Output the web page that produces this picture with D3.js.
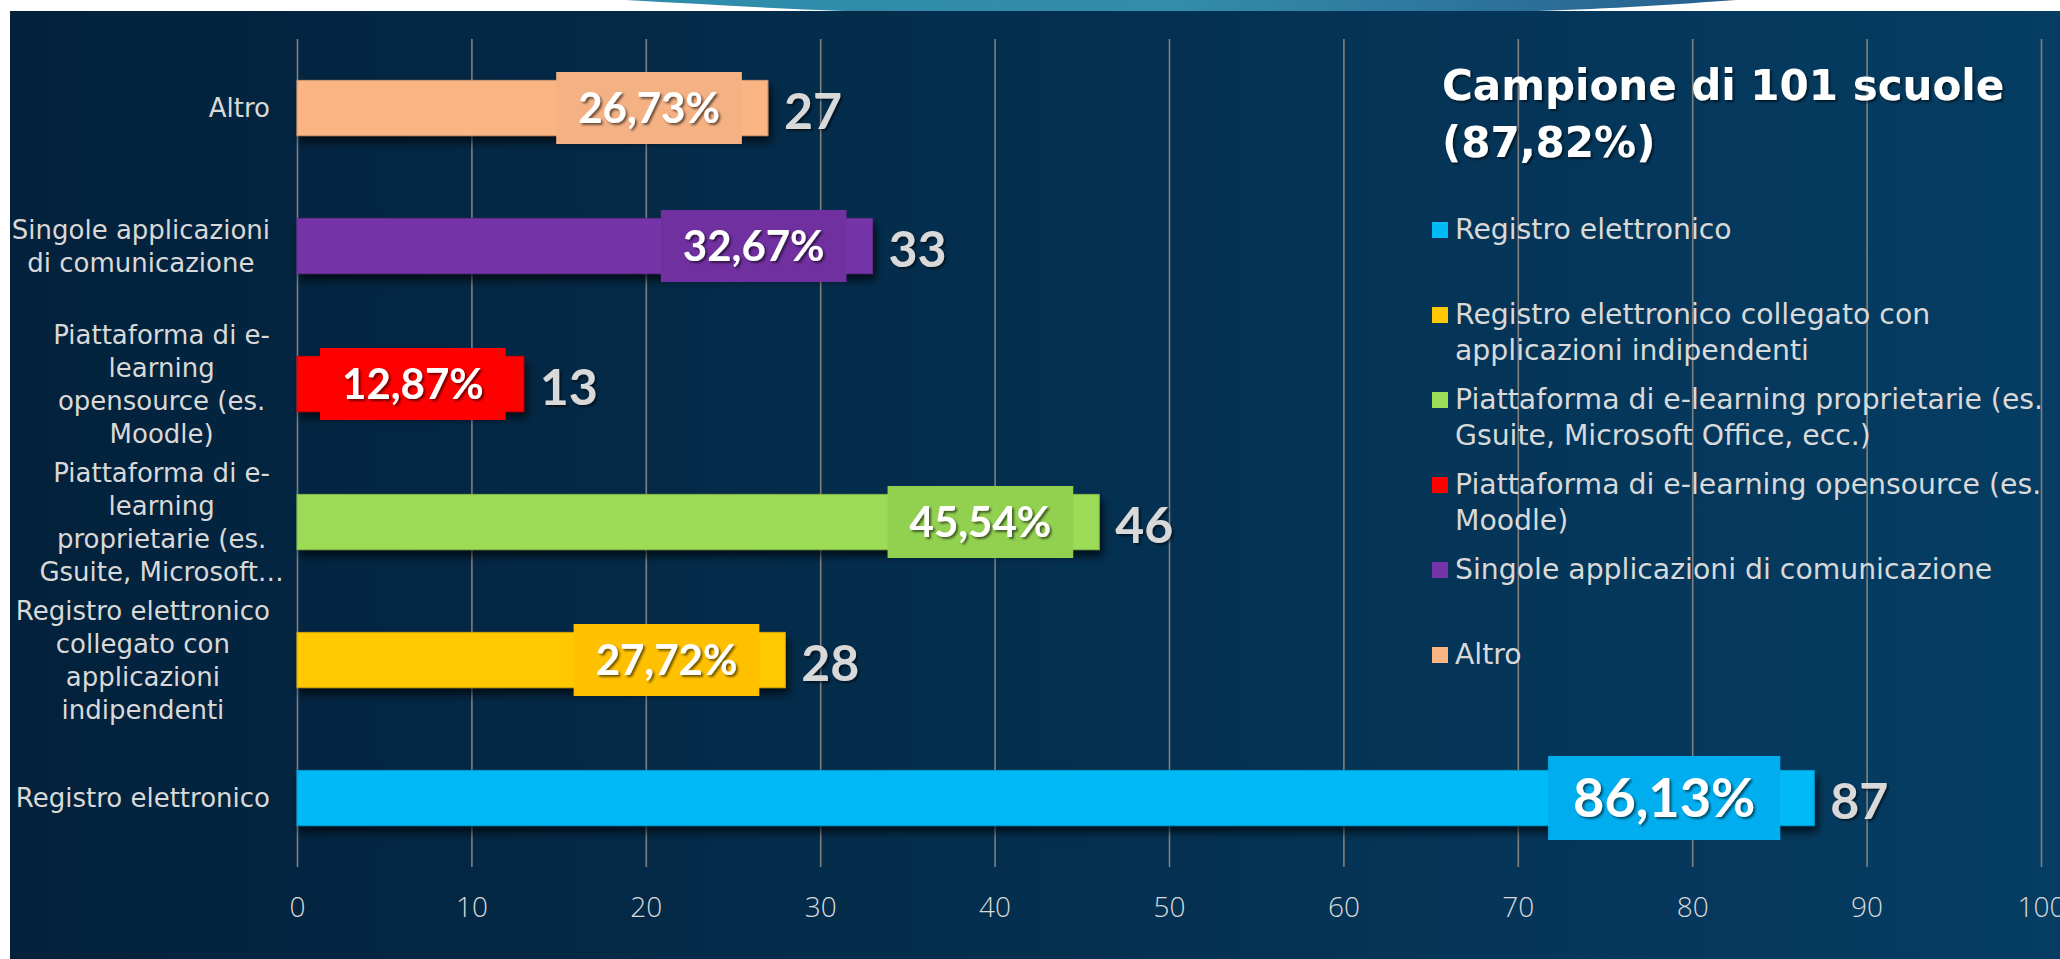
<!DOCTYPE html>
<html>
<head>
<meta charset="utf-8">
<script src="https://cdn.jsdelivr.net/npm/d3@7"></script>
<style>
  body { margin: 0; background: #fff; overflow: hidden; }
  text { font-family: Lato, "Open Sans", sans-serif; }
  .soft { font-family: "Open Sans", Lato, sans-serif; }
  .wide { font-family: "DejaVu Sans", "Open Sans", sans-serif; }
</style>
</head>
<body>
<script>
// data
const categories = [
  "Registro elettronico",
  "Registro elettronico collegato con applicazioni indipendenti",
  "Piattaforma di e-learning proprietarie (es. Gsuite, Microsoft Office, ecc.)",
  "Piattaforma di e-learning opensource (es. Moodle)",
  "Singole applicazioni di comunicazione",
  "Altro"
];
const counts = [87, 28, 46, 13, 33, 27];
const percents = [86.13, 27.72, 45.54, 12.87, 32.67, 26.73];

// axis labels as Excel wrapped them
const axisLines = [
  ["Registro elettronico"],
  ["Registro elettronico", "collegato con", "applicazioni", "indipendenti"],
  ["Piattaforma di e-", "learning", "proprietarie (es.", "Gsuite, Microsoft…"],
  ["Piattaforma di e-", "learning", "opensource (es.", "Moodle)"],
  ["Singole applicazioni", "di comunicazione"],
  ["Altro"]
];
const legendLines = [
  ["Registro elettronico"],
  ["Registro elettronico collegato con", "applicazioni indipendenti"],
  ["Piattaforma di e-learning proprietarie (es.", "Gsuite, Microsoft Office, ecc.)"],
  ["Piattaforma di e-learning opensource (es.", "Moodle)"],
  ["Singole applicazioni di comunicazione"],
  ["Altro"]
];
const titleLines = ["Campione di 101 scuole", "(87,82%)"];
const xTicks = [0, 10, 20, 30, 40, 50, 60, 70, 80, 90, 100];

var width = 2060, height = 959;
var plot = {left: 297, right: 2041, top: 39, bottom: 867};

const barColor = d3.scaleOrdinal()
    .domain(categories)
    .range(["#00b9f7", "#ffc800", "#9cdb55", "#ff0000", "#7535a8", "#fbb585"]);
const boxColor = d3.scaleOrdinal()
    .domain(categories)
    .range(["#00aeef", "#ffc000", "#92d050", "#ff0000", "#7030a0", "#f4b183"]);

const svg = d3.select('body')
    .append("svg")
        .attr("width", width)
        .attr("height", height)

const defs = svg.append("defs")
const bg = defs.append("linearGradient").attr("id", "bg")
bg.append("stop").attr("offset", "0%").attr("stop-color", "#03213b")
bg.append("stop").attr("offset", "100%").attr("stop-color", "#053d63")

const sw = defs.append("linearGradient").attr("id", "swoosh")
sw.append("stop").attr("offset", "0%").attr("stop-color", "#2f8cab")
sw.append("stop").attr("offset", "50%").attr("stop-color", "#338ca9")
sw.append("stop").attr("offset", "100%").attr("stop-color", "#275f8f")

const barShadow = defs.append("filter").attr("id", "barShadow")
    .attr("x", "-5%").attr("y", "-30%").attr("width", "115%").attr("height", "180%")
barShadow.append("feDropShadow")
    .attr("dx", 3).attr("dy", 6).attr("stdDeviation", 4)
    .attr("flood-color", "#000").attr("flood-opacity", 0.7)

const textShadow = defs.append("filter").attr("id", "textShadow")
textShadow.append("feDropShadow")
    .attr("dx", 2).attr("dy", 2).attr("stdDeviation", 1.2)
    .attr("flood-color", "#000").attr("flood-opacity", 0.55)

// background panel + the theme swoosh on top
svg.append("path")
    .attr("d", "M626,0 C700,4 780,9 844,11 L1537,11 C1610,9 1680,4 1736,0 Z")
    .attr("fill", "url(#swoosh)")
svg.append("rect")
    .attr("x", 10).attr("y", 11)
    .attr("width", width - 10).attr("height", height - 11)
    .attr("fill", "url(#bg)")

const x = d3.scaleLinear()
    .domain([0, 100])
    .range([plot.left, plot.right]);

const y = d3.scaleBand()
    .domain(categories.slice().reverse())
    .range([plot.top, plot.bottom])
    .paddingInner(0.6)
    .paddingOuter(0.3);

// gridlines and tick labels
const xAxis = svg.append("g")
    .attr("transform", "translate(0," + plot.bottom + ")")
    .call(d3.axisBottom(x).tickValues(xTicks).tickSize(-(plot.bottom - plot.top)).tickPadding(30))
xAxis.select(".domain").remove()
xAxis.selectAll("line").attr("stroke", "#808080").attr("stroke-width", 1.6)
xAxis.selectAll("text")
    .attr("class", "soft")
    .attr("fill", "#d9d9d9")
    .style("font-size", "28px")
    .style("font-weight", 300)

// category labels (wrapped, centred block, right aligned to axis)
const catG = svg.append("g")
categories.forEach((c, i) => {
    const lines = axisLines[i];
    const lh = 33;
    const cy = y(c) + y.bandwidth() / 2;
    const t = catG.append("text")
        .attr("class", "wide")
        .attr("text-anchor", "middle")
        .attr("fill", "#d9d9d9")
        .style("font-size", "26px")
    lines.forEach((l, j) => {
        t.append("tspan")
            .attr("y", cy + (j - (lines.length - 1) / 2) * lh)
            .attr("dy", "0.35em")
            .text(l)
    })
    // block width from the lines that were not cut with an ellipsis
    let maxW = 0;
    t.selectAll("tspan").each(function() {
        if (!this.textContent.endsWith("…")) maxW = Math.max(maxW, this.getComputedTextLength())
    })
    t.selectAll("tspan").attr("x", 270 - maxW / 2)
})

// bars
const groups = svg.selectAll(".bar")
    .data(categories)
    .enter().append("g")
        .attr("class", "bar")

groups.append('rect')
    .attr('x', x(0))
    .attr('y', d => y(d))
    .attr('width', (d, i) => x(counts[i]) - x(0))
    .attr('height', y.bandwidth())
    .attr('fill', d => barColor(d))
    .attr('stroke', d => d3.color(barColor(d)).darker(0.5))
    .attr('stroke-width', 1)
    .attr('filter', 'url(#barShadow)')

// value labels
groups.append('text')
    .attr('x', (d, i) => x(counts[i]) + 16)
    .attr('y', d => y(d) + y.bandwidth() / 2 + 3)
    .attr('dy', '0.35em')
    .attr('fill', '#d9d9d9')
    .style('font-size', '50px')
    .style('font-weight', 700)
    .attr('filter', 'url(#textShadow)')
    .text((d, i) => counts[i])

// percentage labels in boxes
const maxCount = d3.max(counts);
groups.each(function(d, i) {
    const g = d3.select(this);
    const big = counts[i] === maxCount;
    const fs = big ? 54 : 42;
    const boxH = big ? 84 : 72;
    const pad = big ? 25 : 22;
    const cy = y(d) + y.bandwidth() / 2;
    const box = g.append('rect').attr('fill', boxColor(d));
    const t = g.append('text')
        .attr('text-anchor', 'middle')
        .attr('dy', '0.35em')
        .attr('fill', '#fff')
        .style('font-size', fs + 'px')
        .style('font-weight', 700)
        .attr('filter', 'url(#textShadow)')
        .text(d3.format('.2f')(percents[i]).replace('.', ',') + '%');
    const boxW = t.node().getComputedTextLength() + 2 * pad;
    const right = x(counts[i]) - (big ? 34 : counts[i] < 20 ? 18 : 26);
    box.attr('x', right - boxW).attr('y', cy - boxH / 2)
        .attr('width', boxW).attr('height', boxH);
    t.attr('x', right - boxW / 2).attr('y', cy);
})

// legend
const leg = svg.append("g")
leg.selectAll("text.title")
    .data(titleLines)
    .enter().append("text")
        .attr("class", "title wide")
        .attr("x", 1442)
        .attr("y", (d, i) => 100 + i * 57)
        .attr("fill", "#fff")
        .style("font-size", "42px")
        .style("font-weight", 700)
        .attr("filter", "url(#textShadow)")
        .text(d => d)

categories.forEach((c, i) => {
    const base = 239 + i * 85;
    leg.append("rect")
        .attr("x", 1432).attr("y", base - 17)
        .attr("width", 16).attr("height", 16)
        .attr("fill", barColor(c))
    const t = leg.append("text")
        .attr("class", "wide")
        .attr("fill", "#d9d9d9")
        .style("font-size", "28.3px")
    legendLines[i].forEach((l, j) => {
        t.append("tspan").attr("x", 1455).attr("y", base + j * 36).text(l)
    })
})
</script>
</body>
</html>
